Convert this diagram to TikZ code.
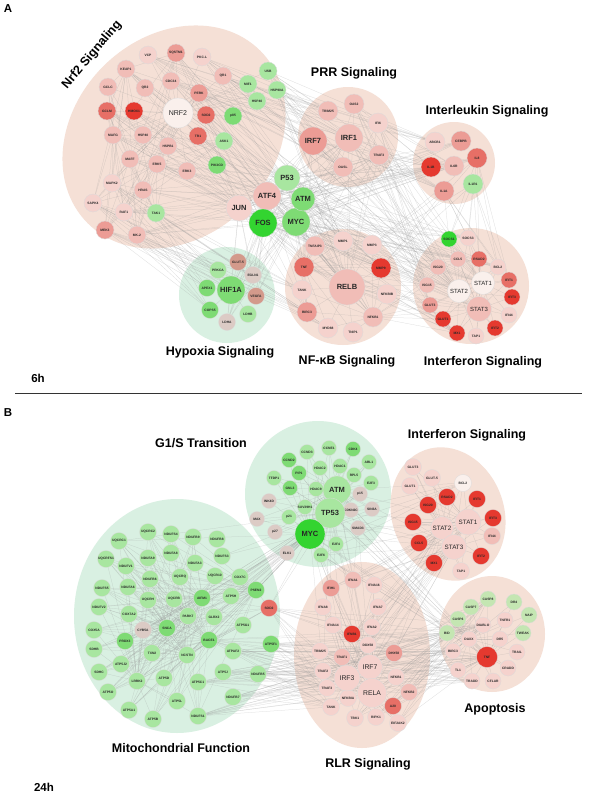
\documentclass[tikz,border=0pt]{standalone}
\usepackage{fontspec}
\setmainfont{Liberation Sans}
\pgfdeclarelayer{bg}
\pgfdeclarelayer{edges}
\pgfsetlayers{bg,edges,main}
\definecolor{clpink}{HTML}{F5E0D6}
\definecolor{clgreen}{HTML}{D9F0E2}
\definecolor{nw}{HTML}{FAF0EC}
\definecolor{np1}{HTML}{F5D2CD}
\definecolor{np2}{HTML}{F1BDB7}
\definecolor{np3}{HTML}{EC9C95}
\definecolor{np4}{HTML}{E76F66}
\definecolor{nr}{HTML}{E5392F}
\definecolor{ng1}{HTML}{C4E6B2}
\definecolor{ng2}{HTML}{A8E6A0}
\definecolor{ng3}{HTML}{7EDB74}
\definecolor{ng4}{HTML}{33D430}
\definecolor{ngr}{HTML}{DCCBC5}
\definecolor{nbr}{HTML}{D39A8B}
\tikzset{
  gene/.style={circle,draw=black!14,line width=0.3pt,inner sep=0pt,minimum size=18pt,
    font=\fontsize{3.3}{4}\selectfont\bfseries,text=black!85},
  hub/.style={gene,font=\fontsize{7.5}{8}\selectfont\bfseries},
  edge/.style={draw=black!40,line width=0.25pt,opacity=0.35},
  title/.style={font=\fontsize{12.5}{14}\selectfont\bfseries},
  tag/.style={font=\fontsize{11.5}{13}\selectfont\bfseries}
}
\begin{document}
\begin{tikzpicture}[x=1pt,y=-1pt]
\useasboundingbox (0,0) rectangle (596,800);
\begin{pgfonlayer}{bg}
  \fill[white] (0,0) rectangle (596,800);
  \fill[clpink] (174,137) ellipse [x radius=122, y radius=100, rotate=45];
  \fill[clpink] (348,137) circle (50);
  \fill[clpink] (454,163) circle (41);
  \fill[clgreen] (227,295) circle (48);
  \fill[clpink] (343,287) circle (58);
  \fill[clpink] (471,286) circle (58);
  \fill[clgreen] (318,494) circle (73);
  \fill[clpink] (448,514) ellipse [x radius=56, y radius=68, rotate=20];
  \fill[clgreen] (177,616) ellipse [x radius=103, y radius=117];
  \fill[clpink] (362,655) ellipse [x radius=68, y radius=93];
  \fill[clpink] (492,634) ellipse [x radius=53, y radius=58];
\end{pgfonlayer}

\node[tag] (lblA) at (8,9) {A};
\node[title,rotate=50] (tNrf2) at (92,55) {Nrf2 Signaling};
\node[title] (tPRR) at (354,73) {PRR Signaling};
\node[title] (tIL) at (487,111) {Interleukin Signaling};
\node[title] (tHyp) at (220,352) {Hypoxia Signaling};
\node[title] (tNFkB) at (347,361) {NF-κB Signaling};
\node[title] (tIFNa) at (483,362) {Interferon Signaling};
\node[tag] (lbl6h) at (38,378) {6h};
\draw[line width=0.8pt,black!80] (15,393) -- (582,393);
\node[tag] (lblB) at (8,413) {B};
\node[title] (tG1S) at (201,443) {G1/S Transition};
\node[title] (tIFNb) at (467,435) {Interferon Signaling};
\node[title] (tMito) at (181,748) {Mitochondrial Function};
\node[title] (tRLR) at (368,764) {RLR Signaling};
\node[title] (tApo) at (495,709) {Apoptosis};
\node[tag] (lbl24h) at (44,787) {24h};

\foreach \n/\x/\y/\t/\c in {aVCP/148/55/VCP/np1, aSQSTM1/176/53/SQSTM1/np3, aPKCL/202/57/PKC-L/np1,
  aKEAP1/126/69/KEAP1/np2, aCDC34/171/81/CDC34/np2, aQR1/223/76/QR1/np2, aUSB/268/71/USB/ng2,
  aMIF1/248/84/MIF1/ng2, aHSP90A/277/90/HSP90A/ng2, aGCLC/108/87/GCLC/np2, aQR2/145/88/QR2/np2,
  aPERK/199/93/PERK/np3, aHSP40g/257/101/HSP40/ng2, aGCLM/107/111/GCLM/np4, aHMOX1/134/111/HMOX1/nr,
  aSOD2/206/115/SOD2/np4, ap85/233/116/p85/ng3, aMAFG/113/135/MAFG/np2, aHSP40/143/135/HSP40/np2,
  aHSPB1/168/146/HSPB1/np2, aTR1/198/136/TR1/np4, aASK1/224/141/ASK1/ng2, aMAFF/130/159/MAFF/np2,
  aERK5/157/164/ERK5/np2, aERK3/187/171/ERK3/np2, aPIK3CD/217/165/PIK3CD/ng3, aMAPK2/112/183/MAPK2/np1,
  aHRAS/143/190/HRAS/np2, aSAPK4/93/203/SAPK4/np1, aRAF1/124/212/RAF1/np1, aTAK1/156/213/TAK1/ng2,
  aMEK3/105/230/MEK3/np3, aMK2/137/235/MK-2/np2}
  \node[gene,fill=\c] (\n) at (\x,\y) {\t};
\node[hub,fill=nw,minimum size=30pt,font=\fontsize{7}{8}\selectfont] (aNRF2) at (178,113) {NRF2};

\foreach \n/\x/\y/\t/\c/\s in {aP53/287/178/P53/ng2/26, aATF4/267/196/ATF4/np2/28, aJUN/239/208/JUN/np1/26,
  aFOS/263/223/FOS/ng4/28, aMYC/296/222/MYC/ng3/28, aATM/303/199/ATM/ng3/24,
  aHIF1A/231/290/HIF1A/ng3/28, aRELB/347/287/RELB/np2/36, aIRF7/313/141/IRF7/np3/28, aIRF1/349/138/IRF1/np2/28}
  \node[hub,fill=\c,minimum size=\s pt] (\n) at (\x,\y) {\t};

\foreach \n/\x/\y/\t/\c in {aGLUT5/238/262/GLUT-5/nbr, aPRKCA/218/270/PRKCA/ng2, aEGLN1/253/275/EGLN1/ngr,
  aAPEX1/207/288/APEX1/ng3, aVEGFA/256/296/VEGFA/nbr, aCOPS5/210/310/COPS5/ng3, aLDHB/248/314/LDHB/ng2,
  aLDHA/227/322/LDHA/ngr}
  \node[gene,fill=\c,minimum size=17pt] (\n) at (\x,\y) {\t};

\foreach \n/\x/\y/\t/\c in {aTNFAIP3/315/246/TNFAIP3/np2, aMMP1/343/241/MMP1/np1, aMMP3/372/245/MMP3/np1,
  aTNF/304/267/TNF/np4, aMMP9/381/268/MMP9/nr, aTANK/302/290/TANK/np1, aNFKBIB/387/294/NFKBIB/np1,
  aBIRC3/307/312/BIRC3/np3, aNFKB1/373/317/NFKB1/np2, aMYD88/328/328/MYD88/np1, aTNIP1/353/332/TNIP1/np1,
  aTRIM25/328/111/TRIM25/np2, aOAS2/354/104/OAS2/np2, aIFI6/378/123/IFI6/np1, aTRAF3/379/155/TRAF3/np2,
  aOASL/343/167/OASL/np2, aABCB1/435/142/ABCB1/np1, aCEBPB/461/141/CEBPB/np3, aIL8/477/158/IL8/np4,
  aIL1B/431/167/IL1B/nr, aIL6R/454/166/IL6R/np2, aIL1R1/473/184/IL1R1/ng2, aIL1A/444/191/IL1A/np3}
  \node[gene,fill=\c,minimum size=20pt] (\n) at (\x,\y) {\t};

\foreach \n/\x/\y/\t/\c in {aSOCS1/449/239/SOCS1/ng4, aSOCS3/468/238/SOCS3/np1, aCCL5/458/259/CCL5/np2,
  aRSAD2/479/259/RSAD2/np4, aISG20/438/267/ISG20/np2, aBCL2/498/267/BCL2/np1, aIFIT1/509/280/IFIT1/np4,
  aISG15/427/285/ISG15/np2, aIFIT3/512/297/IFIT3/nr, aGLUT3/430/305/GLUT3/np3, aIFI44/509/315/IFI44/np1,
  aGLUT1/443/319/GLUT1/nr, aIFIT2/495/328/IFIT2/nr, aMX1/457/333/MX1/nr, aTAP1/476/336/TAP1/np1}
  \node[gene,fill=\c,minimum size=16pt] (\n) at (\x,\y) {\t};
\foreach \n/\x/\y/\t/\c/\s in {aSTAT1/483/283/STAT1/nw/23, aSTAT2/459/291/STAT2/nw/23, aSTAT3/479/309/STAT3/np2/25}
  \node[hub,fill=\c,minimum size=\s pt,font=\fontsize{6}{7}\selectfont] (\n) at (\x,\y) {\t};

\foreach \n/\x/\y/\t/\c in {bCCNE1/329/448/CCNE1/ng2, bCCND3/307/452/CCND3/ng2, bCDK4/353/449/CDK4/ng3,
  bCCND2/289/460/CCND2/ng3, bABL1/369/462/ABL1/ng2, bHDAC2/320/468/HDAC2/ng2, bHDAC1/340/466/HDAC1/ng2,
  bTFDP1/274/478/TFDP1/ng2, bPIP1/299/473/PIP1/ng3, bRPL5/354/475/RPL5/ng2, bE2F3/371/483/E2F3/ng2,
  bGNL3/290/488/GNL3/ng3, bHDAC9/316/489/HDAC9/ng2, bp15/360/494/p15/ngr, bINK4D/269/501/INK4D/ngr,
  bSUV39H1/305/507/SUV39H1/ng2, bCDKN2C/351/510/CDKN2C/ngr, bSIN3A/372/509/SIN3A/ngr, bMAX/257/519/MAX/ngr,
  bp21/289/517/p21/ng2, bSMAD3/358/528/SMAD3/ngr, bp27/275/532/p27/ngr, bE2F4/336/544/E2F4/ng2,
  bELK1/287/553/ELK1/ngr, bE2F6/321/555/E2F6/ng2}
  \node[gene,fill=\c,minimum size=15pt] (\n) at (\x,\y) {\t};
\foreach \n/\x/\y/\t/\c/\s in {bATM/337/490/ATM/ng2/28, bTP53/330/513/TP53/ng2/30, bMYC/310/534/MYC/ng4/30}
  \node[hub,fill=\c,minimum size=\s pt] (\n) at (\x,\y) {\t};

\foreach \n/\x/\y/\t/\c in {bGLUT3/413/467/GLUT3/np1, bGLUT5/432/478/GLUT-5/np1, bGLUT1/410/486/GLUT1/np1,
  bBCL2/463/483/BCL2/nw, bRSAD2/447/497/RSAD2/nr, bIFIT1/477/499/IFIT1/nr, bISG20/428/505/ISG20/nr,
  bIFIT3/493/518/IFIT3/nr, bISG15/413/522/ISG15/nr, bIFI44/492/536/IFI44/np2, bCCL5/419/543/CCL5/nr,
  bIFIT2/481/556/IFIT2/nr, bMX1/434/563/MX1/nr, bTAP1/461/571/TAP1/np1}
  \node[gene,fill=\c,minimum size=17pt] (\n) at (\x,\y) {\t};
\foreach \n/\x/\y/\t/\s in {bSTAT1/468/522/STAT1/26, bSTAT2/442/528/STAT2/23, bSTAT3/454/547/STAT3/25}
  \node[hub,fill=np1,minimum size=\s pt,font=\fontsize{6.3}{7}\selectfont] (\n) at (\x,\y) {\t};

\foreach \n/\x/\y/\t/\c in {bUQCRC2/148/532/UQCRC2/ng2, bNDUFS4/171/534/NDUFS4/ng2, bNDUFB9/193/537/NDUFB9/ng2,
  bNDUFB8/217/539/NDUFB8/ng2, bUQCRC1/119/541/UQCRC1/ng2, bNDUFA8/171/553/NDUFA8/ng2,
  bUQCRFS1/106/559/UQCRFS1/ng2, bNDUFA9/148/558/NDUFA9/ng2, bNDUFA3/195/563/NDUFA3/ng2,
  bNDUFS3/222/556/NDUFS3/ng2, bNDUFV1/126/566/NDUFV1/ng2, bNDUFB6/150/579/NDUFB6/ng2,
  bUQCRQ/180/577/UQCRQ/ng2, bUQCR10/215/576/UQCR10/ng2, bCOX7C/240/577/COX7C/ng2,
  bNDUFS5/102/588/NDUFS5/ng2, bNDUFA6/128/587/NDUFA6/ng2, bUQCRH/148/600/UQCRH/ng2,
  bUQCRB/174/599/UQCRB/ng2, bAIFM1/202/598/AIFM1/ng3, bATP5H/231/596/ATP5H/ng2, bNDUFV2/99/607/NDUFV2/ng2,
  bCOX7A2/129/614/COX7A2/ng2, bPARK7/188/616/PARK7/ng2, bGLRX2/214/617/GLRX2/ng2, bATP5G1/243/625/ATP5G1/ng2,
  bCOX5A/94/630/COX5A/ng2, bCYB5A/143/630/CYB5A/ngr, bSNCA/167/628/SNCA/ng3, bPRDX3/125/641/PRDX3/ng3,
  bBACE1/209/640/BACE1/ng3, bSDHB/94/649/SDHB/ng2, bTXN2/152/653/TXN2/ng2, bNCSTN/187/655/NCSTN/ng2,
  bATPAF2/233/651/ATPAF2/ng2, bATP5J2/121/664/ATP5J2/ng2, bSDHC/99/672/SDHC/ng2, bATP5J/223/672/ATP5J/ng2,
  bLRRK2/137/681/LRRK2/ng2, bATP5D/164/678/ATP5D/ng2, bATP5C1/198/682/ATP5C1/ng2, bATP5O/108/692/ATP5O/ng2,
  bNDUFB7/233/697/NDUFB7/ng2, bATP5L/177/701/ATP5L/ng2, bATP5A1/129/710/ATP5A1/ng2,
  bNDUFS1/198/716/NDUFS1/ng2, bATP5B/153/719/ATP5B/ng2, bPSEN2/256/590/PSEN2/ng3, bSOD2/269/608/SOD2/np4,
  bATP5F1/271/644/ATP5F1/ng3, bNDUFB5/258/674/NDUFB5/ng2}
  \node[gene,fill=\c,minimum size=17pt] (\n) at (\x,\y) {\t};

\foreach \n/\x/\y/\t/\c in {bIFNA1/353/580/IFNA1/np2, bIFIH1/331/588/IFIH1/np3, bIFNA16/374/585/IFNA16/np1,
  bIFNA8/323/607/IFNA8/np1, bIFNA7/378/607/IFNA7/np1, bIFNA14/333/625/IFNA14/np1, bIFNA2/372/627/IFNA2/np1,
  bIFNB1/352/634/IFNB1/nr, bDDX58/368/645/DDX58/np1, bTRIM25/320/651/TRIM25/np1, bTRAF1/342/657/TRAF1/np2,
  bDHX58/394/653/DHX58/np3, bTRAF2/323/671/TRAF2/np1, bNFKB1/396/677/NFKB1/np1, bTRAF3/327/688/TRAF3/np1,
  bNFKB2/409/692/NFKB2/np2, bNFKBIA/348/698/NFKBIA/np1, bA20/393/706/A20/np4, bTANK/331/707/TANK/np1,
  bTBK1/355/718/TBK1/np1, bRIPK1/376/717/RIPK1/np1, bEIF2AK2/398/723/EIF2AK2/np1}
  \node[gene,fill=\c,minimum size=17pt] (\n) at (\x,\y) {\t};
\foreach \n/\x/\y/\t/\s in {bIRF7/370/667/IRF7/25, bIRF3/347/678/IRF3/26, bRELA/372/693/RELA/29}
  \node[hub,fill=np1,minimum size=\s pt,font=\fontsize{6.8}{7}\selectfont] (\n) at (\x,\y) {\t};

\foreach \n/\x/\y/\t/\c in {bCASP8/488/599/CASP8/ng1, bDR4/514/602/DR4/ng1, bCASP7/471/607/CASP7/ng1,
  bNAIP/529/615/NAIP/ng1, bCASP6/458/619/CASP6/ng1, bTNFR1/505/620/TNFR1/np1, bDIABLO/483/625/DIABLO/np1,
  bBID/447/633/BID/ng1, bTWEAK/523/633/TWEAK/ng1, bDAXX/469/639/DAXX/np1, bDR5/500/639/DR5/np1,
  bBIRC3/453/651/BIRC3/np1, bTRAIL/517/652/TRAIL/np1, bTL1/458/670/TL1/np1, bCRADD/508/668/CRADD/np1,
  bTRADD/472/681/TRADD/np1, bCFLAR/493/681/CFLAR/np1}
  \node[gene,fill=\c,minimum size=16pt] (\n) at (\x,\y) {\t};
\node[gene,fill=nr,minimum size=21pt] (bTNF) at (487,657) {TNF};

\begin{pgfonlayer}{edges}
  \foreach \t in {aVCP,aSQSTM1,aPKCL,aKEAP1,aCDC34,aQR1,aUSB,aMIF1,aHSP90A,aGCLC,aQR2,aPERK,aHSP40g,aGCLM,
    aHMOX1,aSOD2,ap85,aMAFG,aHSP40,aHSPB1,aTR1,aASK1,aMAFF,aERK5,aERK3,aPIK3CD,aMAPK2,aHRAS,aSAPK4,aRAF1,
    aTAK1,aMEK3,aMK2}
    \draw[edge] (aNRF2) -- (\t);
  \foreach \s in {aKEAP1,aMAFG,aMAFF,aHRAS,aRAF1,aERK5}
    \foreach \t in {aSQSTM1,aGCLM,aGCLC,aSAPK4,aMEK3,aMK2,aMAPK2,aPERK,aASK1,aTAK1}
      \draw[edge] (\s) -- (\t);
  \foreach \s in {aJUN,aFOS,aMYC,aATF4,aATM,aP53}
    \foreach \t in {aKEAP1,aSQSTM1,aHMOX1,aGCLM,aMAFG,aMAFF,aERK5,aHRAS,aRAF1,aMK2,aTR1,aSOD2,aHIF1A,aVEGFA,
      aLDHA,aEGLN1,aRELB,aTNF,aMMP9,aNFKB1,aBIRC3,aTNFAIP3,aIRF7,aIRF1,aOASL,aTRAF3,aIL8,aIL1B,aIL6R,aCEBPB,
      aSTAT1,aSTAT2,aSTAT3,aSOCS3,aBCL2,aCCL5,aISG15,aMX1}
      \draw[edge] (\s) -- (\t);
  \foreach \s in {aPKCL,aQR1,aHSP90A,aUSB,aPERK,aCDC34,aVCP}
    \foreach \t in {aIRF7,aTRIM25,aIRF1,aOASL,aRELB,aMMP1,aIL1A,aABCB1,aSTAT2}
      \draw[edge] (\s) -- (\t);
  \foreach \s in {aIRF7,aIRF1,aTRAF3,aIFI6,aOAS2}
    \foreach \t in {aSTAT1,aSTAT2,aISG20,aISG15,aGLUT3,aIL6R,aIL1B,aRELB,aTNF}
      \draw[edge] (\s) -- (\t);
  \foreach \s in {aRELB,aNFKB1,aTNF}
    \foreach \t in {aTNFAIP3,aMMP1,aMMP3,aMMP9,aTANK,aNFKBIB,aBIRC3,aMYD88,aTNIP1,aISG15,aGLUT3,aGLUT1,aMX1,
      aCCL5,aSTAT3}
      \draw[edge] (\s) -- (\t);
  \foreach \s in {aSTAT1,aSTAT2,aSTAT3}
    \foreach \t in {aSOCS1,aSOCS3,aCCL5,aRSAD2,aISG20,aBCL2,aIFIT1,aISG15,aIFIT3,aGLUT3,aIFI44,aGLUT1,aIFIT2,
      aMX1,aTAP1}
      \draw[edge] (\s) -- (\t);
  \foreach \s in {aIL1R1,aIL1A,aIL8}
    \foreach \t in {aSOCS1,aSOCS3,aRSAD2,aBCL2,aIFIT1,aMMP3,aMMP9}
      \draw[edge] (\s) -- (\t);
  \foreach \t in {aGLUT5,aPRKCA,aEGLN1,aAPEX1,aVEGFA,aCOPS5,aLDHB,aLDHA}
    \draw[edge] (aHIF1A) -- (\t);
  \foreach \s in {aMAPK2,aSAPK4,aMEK3,aTAK1,aMK2}
    \foreach \t in {aHIF1A,aPRKCA,aAPEX1,aCOPS5,aTANK,aBIRC3,aMYD88}
      \draw[edge] (\s) -- (\t);

  \foreach \s in {bMYC,bTP53,bATM}
    \foreach \t in {bCCNE1,bCCND3,bCDK4,bCCND2,bABL1,bHDAC2,bHDAC1,bTFDP1,bPIP1,bRPL5,bE2F3,bGNL3,bHDAC9,
      bp15,bINK4D,bSUV39H1,bCDKN2C,bSIN3A,bMAX,bp21,bSMAD3,bp27,bE2F4,bELK1,bE2F6}
      \draw[edge] (\s) -- (\t);
  \draw[edge] (bMYC) -- (bTP53) -- (bATM);
  \foreach \s in {bMYC,bTP53}
    \foreach \t in {bSNCA,bPARK7,bAIFM1,bBACE1,bPSEN2,bSOD2,bTXN2,bPRDX3,bLRRK2,bNCSTN,bCOX7C,bUQCRC1,
      bNDUFS3,bATP5H,bGLRX2,bCYB5A,bIRF3,bRELA,bIFIH1,bTRAF2}
      \draw[edge] (\s) -- (\t);
  \foreach \s in {bSNCA,bPARK7,bAIFM1,bBACE1,bLRRK2,bPSEN2,bNCSTN}
    \foreach \t in {bUQCRC2,bNDUFS4,bNDUFB9,bUQCRC1,bUQCRFS1,bNDUFA9,bNDUFV1,bNDUFB6,bUQCRQ,bUQCR10,bNDUFS5,
      bNDUFA6,bUQCRH,bUQCRB,bNDUFV2,bCOX7A2,bCOX5A,bCYB5A,bPRDX3,bSDHB,bTXN2,bATP5J2,bSDHC,bATP5D,bATP5O,
      bATP5L,bATP5A1,bNDUFS1,bATP5B,bATP5G1,bSOD2}
      \draw[edge] (\s) -- (\t);
  \foreach \s in {bSTAT1,bSTAT2,bSTAT3}
    \foreach \t in {bGLUT3,bGLUT5,bGLUT1,bBCL2,bRSAD2,bIFIT1,bISG20,bIFIT3,bISG15,bIFI44,bCCL5,bIFIT2,bMX1,
      bTAP1,bIRF7,bIRF3,bIFNB1,bIFNA1,bIFNA2,bIFNA7,bIFNA16,bDDX58,bDHX58,bIFIH1}
      \draw[edge] (\s) -- (\t);
  \foreach \s in {bRELA,bIRF3,bIRF7}
    \foreach \t in {bIFNA1,bIFIH1,bIFNA16,bIFNA8,bIFNA7,bIFNA14,bIFNA2,bIFNB1,bDDX58,bTRIM25,bTRAF1,bDHX58,
      bTRAF2,bNFKB1,bTRAF3,bNFKB2,bNFKBIA,bA20,bTANK,bTBK1,bRIPK1,bEIF2AK2}
      \draw[edge] (\s) -- (\t);
  \foreach \s in {bTNF,bDAXX}
    \foreach \t in {bCASP8,bDR4,bCASP7,bNAIP,bCASP6,bTNFR1,bDIABLO,bBID,bTWEAK,bDR5,bBIRC3,bTRAIL,bTL1,
      bCRADD,bTRADD,bCFLAR}
      \draw[edge] (\s) -- (\t);
  \foreach \s in {bTNF,bBID,bCASP8,bDIABLO}
    \foreach \t in {bRELA,bNFKB1,bRIPK1,bA20,bTBK1,bTRAF2,bNFKB2,bEIF2AK2,bIRF3}
      \draw[edge] (\s) -- (\t);
  \foreach \s in {bATP5F1,bNDUFB5,bSOD2,bNDUFB7,bNDUFS1,bATP5J,bATPAF2,bATP5C1,bBACE1}
    \foreach \t in {bIRF3,bRELA,bTRAF2,bTANK,bTRAF3,bBID,bTNF,bDIABLO,bBIRC3,bTL1,bTRADD}
      \draw[edge] (\s) -- (\t);
  \foreach \s in {bMYC,bTP53,bATM,bSMAD3,bE2F6}
    \foreach \t in {bSTAT1,bSTAT3,bBCL2,bIFNA1,bIRF7,bTNF,bBID,bDAXX}
      \draw[edge] (\s) -- (\t);
\end{pgfonlayer}
\end{tikzpicture}
\end{document}
